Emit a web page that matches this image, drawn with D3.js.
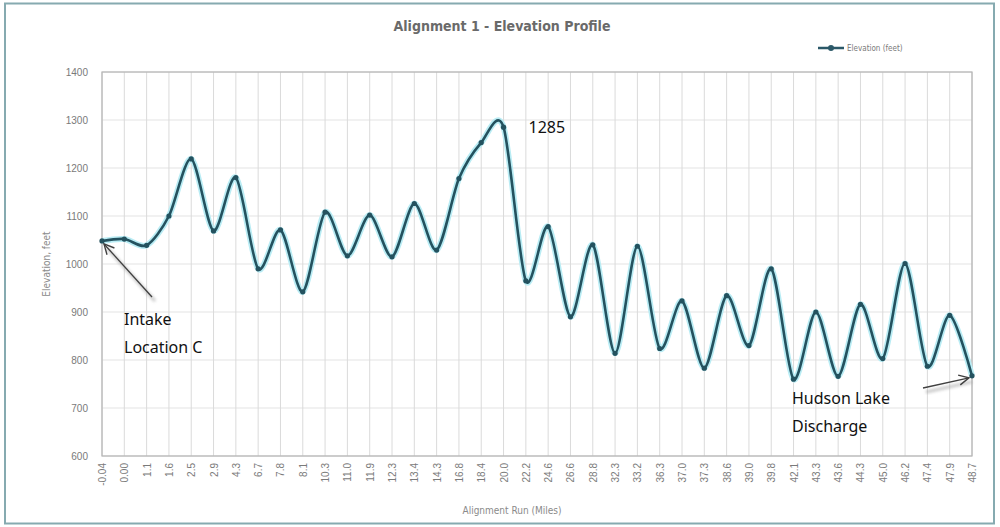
<!DOCTYPE html>
<html>
<head>
<meta charset="utf-8">
<script src="https://cdn.jsdelivr.net/npm/d3@7/dist/d3.min.js"></script>
<style>
  html, body { margin: 0; padding: 0; background: #ffffff; }
  svg { display: block; }
</style>
</head>
<body>
<svg id="chart" width="1000" height="527"></svg>
<script>
// Alignment run stations (miles) used as category labels along the bottom axis
const stations = ["-0.04", "0.00", "1.1", "1.6", "2.5", "2.9", "4.3", "6.7", "7.8", "8.1",
  "10.3", "11.0", "11.9", "12.3", "13.4", "14.3", "16.8", "18.4", "20.0", "22.2",
  "24.6", "26.6", "28.8", "32.3", "33.2", "36.3", "37.0", "37.3", "38.6", "39.0",
  "39.8", "42.1", "43.3", "43.6", "44.3", "45.0", "46.2", "47.4", "47.9", "48.7"];

// Ground elevation (feet) at each station
const elevations = [1048, 1052, 1039, 1100, 1219, 1069, 1180, 990, 1071, 942,
  1108, 1017, 1102, 1015, 1126, 1029, 1178, 1253, 1285, 965,
  1078, 890, 1040, 814, 1037, 824, 923, 783, 934, 830,
  990, 760, 900, 766, 916, 803, 1001, 787, 893, 767];

const yTicks = [600, 700, 800, 900, 1000, 1100, 1200, 1300, 1400];

const svg = d3.select("#chart");
const W = 1000, H = 527;
const plot = { left: 102, right: 972, top: 72, bottom: 456 };

const defs = svg.append("defs");
defs.append("filter").attr("id", "soft")
  .attr("x", "-20%").attr("y", "-20%").attr("width", "140%").attr("height", "140%")
  .append("feGaussianBlur").attr("stdDeviation", 1.6);
defs.append("marker").attr("id", "arrowOpen")
  .attr("viewBox", "0 0 12 12").attr("refX", 11).attr("refY", 6)
  .attr("markerWidth", 12).attr("markerHeight", 12)
  .attr("markerUnits", "userSpaceOnUse").attr("orient", "auto")
  .append("path").attr("d", "M1,1 L11,6 L1,11")
  .attr("fill", "none").attr("stroke", "#404040").attr("stroke-width", 1.4);

// chart frame
svg.append("rect").attr("x", 0).attr("y", 0).attr("width", W).attr("height", H).attr("fill", "#ffffff");
svg.append("rect").attr("x", 5).attr("y", 3.5).attr("width", 989).attr("height", 520)
  .attr("fill", "#ffffff").attr("stroke", "#86aab0").attr("stroke-width", 2);

const x = d3.scalePoint().domain(stations).range([plot.left, plot.right]).padding(0);
const y = d3.scaleLinear().domain([600, 1400]).range([plot.bottom, plot.top]);

// gridlines
svg.append("g").selectAll("line.h").data(yTicks).join("line")
  .attr("x1", plot.left).attr("x2", plot.right)
  .attr("y1", d => y(d)).attr("y2", d => y(d))
  .attr("stroke", "#e3e3e3").attr("stroke-width", 1);
svg.append("g").selectAll("line.v").data(stations).join("line")
  .attr("x1", d => x(d)).attr("x2", d => x(d))
  .attr("y1", plot.top).attr("y2", plot.bottom)
  .attr("stroke", "#dadada").attr("stroke-width", 1);

// plot border
svg.append("rect").attr("x", plot.left).attr("y", plot.top)
  .attr("width", plot.right - plot.left).attr("height", plot.bottom - plot.top)
  .attr("fill", "none").attr("stroke", "#b5b5b5").attr("stroke-width", 1.2);

// y axis
const yAxis = svg.append("g").attr("transform", `translate(${plot.left},0)`)
  .call(d3.axisLeft(y).tickValues(yTicks).tickSize(0).tickPadding(14).tickFormat(d3.format("d")));
yAxis.select(".domain").remove();
yAxis.selectAll("text").attr("fill", "#7a7a7a").attr("font-size", 10)
  .attr("font-family", "'Liberation Sans', Arial, sans-serif");

// x axis with rotated labels
const xAxis = svg.append("g").attr("transform", `translate(0,${plot.bottom})`)
  .call(d3.axisBottom(x).tickSize(0));
xAxis.select(".domain").remove();
xAxis.selectAll("text")
  .attr("fill", "#7a7a7a").attr("font-size", 10)
  .attr("font-family", "'Liberation Sans', Arial, sans-serif")
  .attr("transform", "rotate(-90)")
  .attr("text-anchor", "end")
  .attr("x", -7).attr("y", 0).attr("dy", "0.35em");

// axis titles
svg.append("text").attr("transform", "translate(50,264) rotate(-90)")
  .attr("text-anchor", "middle").attr("fill", "#8a8a8a").attr("font-size", 10)
  .attr("font-family", "'Liberation Sans Narrow', 'DejaVu Sans Condensed', sans-serif")
  .text("Elevation, feet");
svg.append("text").attr("x", 512).attr("y", 514)
  .attr("text-anchor", "middle").attr("fill", "#8a8a8a").attr("font-size", 10)
  .attr("font-family", "'Liberation Sans Narrow', 'DejaVu Sans Condensed', sans-serif")
  .text("Alignment Run (Miles)");

// title
svg.append("text").attr("x", 502).attr("y", 31)
  .attr("text-anchor", "middle").attr("fill", "#6a6a6a").attr("font-size", 14)
  .attr("font-weight", "bold")
  .attr("font-family", "'Liberation Sans Narrow', 'DejaVu Sans Condensed', sans-serif")
  .text("Alignment 1 - Elevation Profile");

// legend
const lg = svg.append("g").attr("transform", "translate(818,48)");
lg.append("line").attr("x1", 0).attr("x2", 26).attr("y1", 0).attr("y2", 0)
  .attr("stroke", "#2b5868").attr("stroke-width", 2.5);
lg.append("circle").attr("cx", 13).attr("cy", 0).attr("r", 3).attr("fill", "#2b5868");
lg.append("text").attr("x", 29).attr("y", 3).attr("fill", "#7a7a7a").attr("font-size", 8)
  .attr("font-family", "'Liberation Sans Narrow', 'DejaVu Sans Condensed', sans-serif")
  .text("Elevation (feet)");

// elevation profile, smoothed
const pts = stations.map((s, i) => [x(s), y(elevations[i])]);
const line = d3.line().curve(d3.curveCardinal.tension(0.15));
svg.append("path").attr("d", line(pts)).attr("fill", "none")
  .attr("stroke", "#b9ecf4").attr("stroke-width", 6).attr("stroke-linejoin", "round");
svg.append("path").attr("d", line(pts)).attr("fill", "none")
  .attr("stroke", "#24525f").attr("stroke-width", 2.6).attr("stroke-linejoin", "round");
svg.append("g").selectAll("circle").data(pts).join("circle")
  .attr("cx", d => d[0]).attr("cy", d => d[1]).attr("r", 2.6).attr("fill", "#24525f");

// annotations
const peakIdx = elevations.indexOf(d3.max(elevations));
svg.append("text").attr("x", x(stations[peakIdx]) + 25).attr("y", 133)
  .attr("font-size", 16).attr("fill", "#111")
  .attr("font-family", "'Noto Sans', 'Open Sans', sans-serif")
  .text(String(elevations[peakIdx]));

function arrow(x1, y1, x2, y2) {
  svg.append("line").attr("x1", x1 + 3).attr("y1", y1 + 4).attr("x2", x2 + 3).attr("y2", y2 + 4)
    .attr("stroke", "#9a9a9a").attr("stroke-width", 3).attr("opacity", 0.55)
    .attr("filter", "url(#soft)");
  svg.append("line").attr("x1", x1).attr("y1", y1).attr("x2", x2).attr("y2", y2)
    .attr("stroke", "#404040").attr("stroke-width", 1.3)
    .attr("marker-end", "url(#arrowOpen)");
}
arrow(152, 297, x(stations[0]) + 2, y(elevations[0]) + 3);
arrow(923, 388, x(stations[stations.length - 1]) - 3, y(elevations[elevations.length - 1]) + 2);

const note = (tx, ty, lines) => {
  const t = svg.append("text").attr("x", tx).attr("y", ty).attr("font-size", 16)
    .attr("fill", "#111").attr("font-family", "'Noto Sans', 'Open Sans', sans-serif");
  lines.forEach((l, i) => t.append("tspan").attr("x", tx).attr("dy", i ? 28 : 0).text(l));
};
note(124, 325, ["Intake", "Location C"]);
note(792, 404, ["Hudson Lake", "Discharge"]);
</script>
</body>
</html>
